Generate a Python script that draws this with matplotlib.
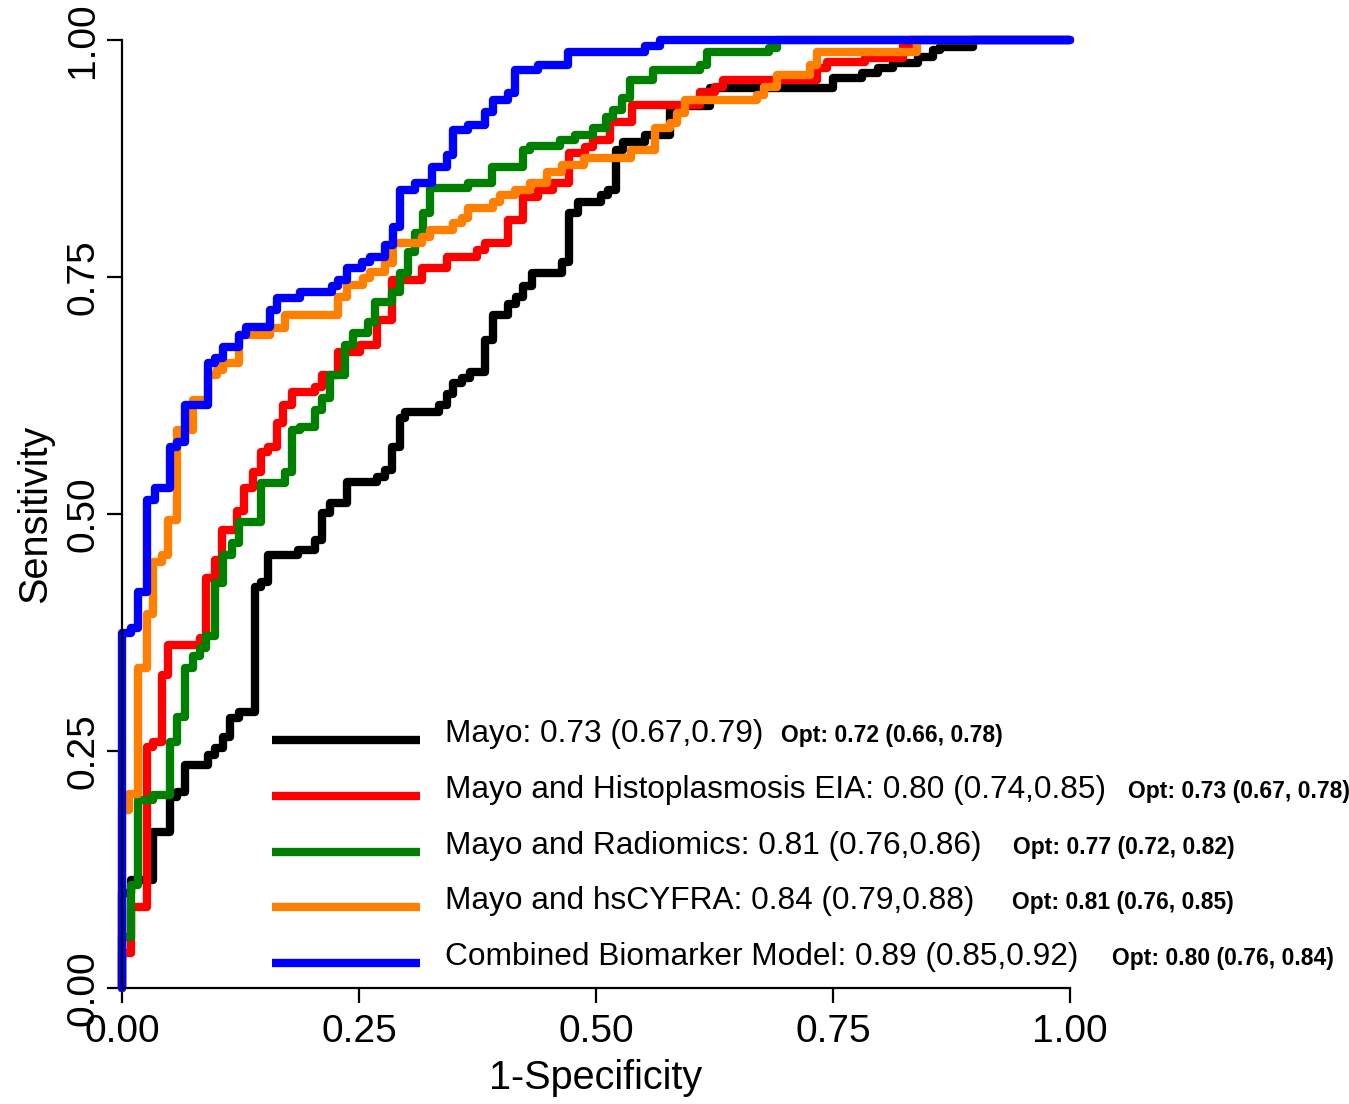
import matplotlib
matplotlib.use("Agg")
import matplotlib.pyplot as plt

plt.rcParams['font.family'] = ['Liberation Sans', 'DejaVu Sans']

# ROC step points: (1-specificity, sensitivity)
mayo_fpr = [0, 0, 0.009, 0.033, 0.051, 0.058, 0.066, 0.091, 0.098, 0.107, 0.114, 0.123,
            0.140, 0.147, 0.154, 0.186, 0.204, 0.211, 0.219, 0.237, 0.269, 0.277, 0.285,
            0.293, 0.299, 0.334, 0.343, 0.349, 0.359, 0.367, 0.383, 0.391, 0.407, 0.416,
            0.423, 0.432, 0.464, 0.472, 0.481, 0.505, 0.513, 0.521, 0.529, 0.552, 0.578,
            0.620, 0.750, 0.781, 0.797, 0.813, 0.840, 0.855, 0.863, 0.898, 1.0]
mayo_tpr = [0, 0.10, 0.114, 0.165, 0.202, 0.207, 0.235, 0.246, 0.253, 0.265, 0.285, 0.291,
            0.423, 0.428, 0.457, 0.462, 0.473, 0.501, 0.512, 0.534, 0.539, 0.546, 0.571,
            0.601, 0.608, 0.615, 0.627, 0.638, 0.643, 0.650, 0.684, 0.710, 0.722, 0.729,
            0.740, 0.754, 0.766, 0.817, 0.829, 0.836, 0.842, 0.884, 0.892, 0.900, 0.930,
            0.949, 0.960, 0.965, 0.970, 0.976, 0.982, 0.989, 0.993, 1.0, 1.0]

histo_fpr = [0, 0, 0.009, 0.026, 0.033, 0.042, 0.049, 0.082, 0.089, 0.098, 0.105, 0.121,
             0.129, 0.138, 0.147, 0.154, 0.163, 0.170, 0.179, 0.204, 0.211, 0.228, 0.251,
             0.269, 0.285, 0.316, 0.343, 0.374, 0.383, 0.407, 0.423, 0.439, 0.455, 0.471,
             0.488, 0.497, 0.515, 0.538, 0.610, 0.626, 0.634, 0.733, 0.744, 0.784, 0.824,
             0.831, 1.0]
histo_tpr = [0, 0.037, 0.085, 0.254, 0.260, 0.330, 0.362, 0.369, 0.432, 0.451, 0.483, 0.503,
             0.527, 0.544, 0.565, 0.571, 0.596, 0.615, 0.629, 0.634, 0.647, 0.671, 0.678,
             0.705, 0.747, 0.760, 0.771, 0.778, 0.786, 0.810, 0.834, 0.842, 0.849, 0.881,
             0.887, 0.894, 0.913, 0.931, 0.945, 0.950, 0.958, 0.970, 0.977, 0.981, 0.995,
             1.0, 1.0]

radio_fpr = [0, 0, 0.009, 0.017, 0.033, 0.051, 0.058, 0.066, 0.075, 0.082, 0.089, 0.098,
             0.107, 0.116, 0.123, 0.147, 0.172, 0.179, 0.188, 0.204, 0.211, 0.219, 0.235,
             0.244, 0.259, 0.267, 0.285, 0.293, 0.302, 0.309, 0.318, 0.325, 0.365, 0.390,
             0.423, 0.430, 0.462, 0.478, 0.497, 0.511, 0.518, 0.527, 0.536, 0.560, 0.610,
             0.617, 0.683, 0.691, 1.0]
radio_tpr = [0, 0.054, 0.109, 0.198, 0.204, 0.260, 0.286, 0.338, 0.350, 0.359, 0.371, 0.427,
             0.457, 0.469, 0.492, 0.533, 0.544, 0.589, 0.592, 0.610, 0.622, 0.647, 0.678,
             0.691, 0.703, 0.724, 0.734, 0.754, 0.776, 0.796, 0.817, 0.844, 0.849, 0.866,
             0.884, 0.888, 0.894, 0.900, 0.907, 0.919, 0.926, 0.939, 0.958, 0.968, 0.974,
             0.987, 0.992, 1.0, 1.0]

cyfra_fpr = [0, 0, 0.007, 0.017, 0.026, 0.033, 0.042, 0.049, 0.058, 0.075, 0.091, 0.100,
             0.107, 0.123, 0.156, 0.172, 0.228, 0.237, 0.254, 0.262, 0.277, 0.286, 0.316,
             0.325, 0.349, 0.359, 0.365, 0.391, 0.399, 0.415, 0.430, 0.448, 0.464, 0.487,
             0.537, 0.562, 0.578, 0.585, 0.594, 0.670, 0.677, 0.691, 0.726, 0.733, 0.839,
             1.0]
cyfra_tpr = [0, 0.188, 0.205, 0.338, 0.394, 0.449, 0.457, 0.494, 0.589, 0.620, 0.647, 0.652,
             0.659, 0.689, 0.696, 0.710, 0.729, 0.742, 0.749, 0.755, 0.765, 0.786, 0.792,
             0.800, 0.807, 0.812, 0.823, 0.829, 0.836, 0.842, 0.849, 0.861, 0.868, 0.876,
             0.884, 0.907, 0.912, 0.923, 0.937, 0.942, 0.950, 0.963, 0.974, 0.987, 1.0,
             1.0]

comb_fpr = [0, 0, 0.010, 0.017, 0.026, 0.035, 0.051, 0.058, 0.066, 0.091, 0.098, 0.107,
            0.123, 0.131, 0.156, 0.163, 0.188, 0.221, 0.228, 0.237, 0.253, 0.262, 0.277,
            0.286, 0.293, 0.309, 0.327, 0.343, 0.349, 0.365, 0.383, 0.391, 0.407, 0.415,
            0.439, 0.470, 0.552, 0.567, 1.0]
comb_tpr = [0, 0.374, 0.380, 0.418, 0.515, 0.527, 0.571, 0.576, 0.615, 0.659, 0.665, 0.676,
            0.689, 0.697, 0.715, 0.728, 0.734, 0.740, 0.747, 0.760, 0.766, 0.771, 0.784,
            0.803, 0.842, 0.849, 0.866, 0.879, 0.905, 0.910, 0.924, 0.937, 0.944, 0.968,
            0.974, 0.987, 0.994, 1.0, 1.0]

labels = ["Mayo: 0.73 (0.67,0.79)",
          "Mayo and Histoplasmosis EIA: 0.80 (0.74,0.85)",
          "Mayo and Radiomics: 0.81 (0.76,0.86)",
          "Mayo and hsCYFRA: 0.84 (0.79,0.88)",
          "Combined Biomarker Model: 0.89 (0.85,0.92)"]
opt_labels = ["Opt: 0.72 (0.66, 0.78)",
              "Opt: 0.73 (0.67, 0.78)",
              "Opt: 0.77 (0.72, 0.82)",
              "Opt: 0.81 (0.76, 0.85)",
              "Opt: 0.80 (0.76, 0.84)"]
colors = ["black", "#ff0000", "#008000", "#ff8000", "#0000ff"]
curves = [(mayo_fpr, mayo_tpr), (histo_fpr, histo_tpr), (radio_fpr, radio_tpr),
          (cyfra_fpr, cyfra_tpr), (comb_fpr, comb_tpr)]

W, H = 1349, 1104
fig = plt.figure(figsize=(W / 100, H / 100), dpi=100)
ax = fig.add_axes([122 / W, (H - 988) / H, 948 / W, 948 / H])

lw = 6.0
for (fx, ty), c in zip(curves, colors):
    ax.plot(fx, ty, drawstyle='steps-post', color=c, lw=lw, clip_on=False,
            solid_joinstyle='round', solid_capstyle='round')

ax.set_xlim(0, 1)
ax.set_ylim(0, 1)
for s in ['top', 'right']:
    ax.spines[s].set_visible(False)
for s in ['left', 'bottom']:
    ax.spines[s].set_linewidth(1.6)

ticks = [0, 0.25, 0.5, 0.75, 1.0]
ticklabels = ["0.00", "0.25", "0.50", "0.75", "1.00"]
ax.set_xticks(ticks)
ax.set_xticklabels(ticklabels, fontsize=28)
ax.set_yticks(ticks)
ax.set_yticklabels(ticklabels, fontsize=28, rotation=90, va='center')
ax.tick_params(axis='both', direction='out', length=11, width=1.6)
ax.tick_params(axis='x', pad=8)
ax.tick_params(axis='y', pad=4)

ax.set_xlabel("1-Specificity", fontsize=28.5)
ax.xaxis.set_label_coords(0.5, -0.095)
ax.xaxis.label.set_va('center')
ax.set_ylabel("Sensitivity", fontsize=28.5)
ax.yaxis.set_label_coords(-0.092, 0.5)
ax.yaxis.label.set_va('center')

# hand-placed legend, as in the original
line_y = [0.2616, 0.2025, 0.1435, 0.0854, 0.0264]
opt_x = [0.695, 1.061, 0.940, 0.939, 1.044]
for i in range(5):
    ax.plot([0.158, 0.314], [line_y[i], line_y[i]], color=colors[i], lw=lw,
            transform=ax.transAxes, clip_on=False, solid_capstyle='butt')
    ax.text(0.3407, line_y[i] - 0.002, labels[i], fontsize=22.8, va='baseline',
            ha='left', transform=ax.transAxes)
    ax.text(opt_x[i], line_y[i] - 0.002, opt_labels[i], fontsize=16.5,
            fontweight='bold', va='baseline', ha='left', transform=ax.transAxes)

fig.savefig("out.png", dpi=100)
